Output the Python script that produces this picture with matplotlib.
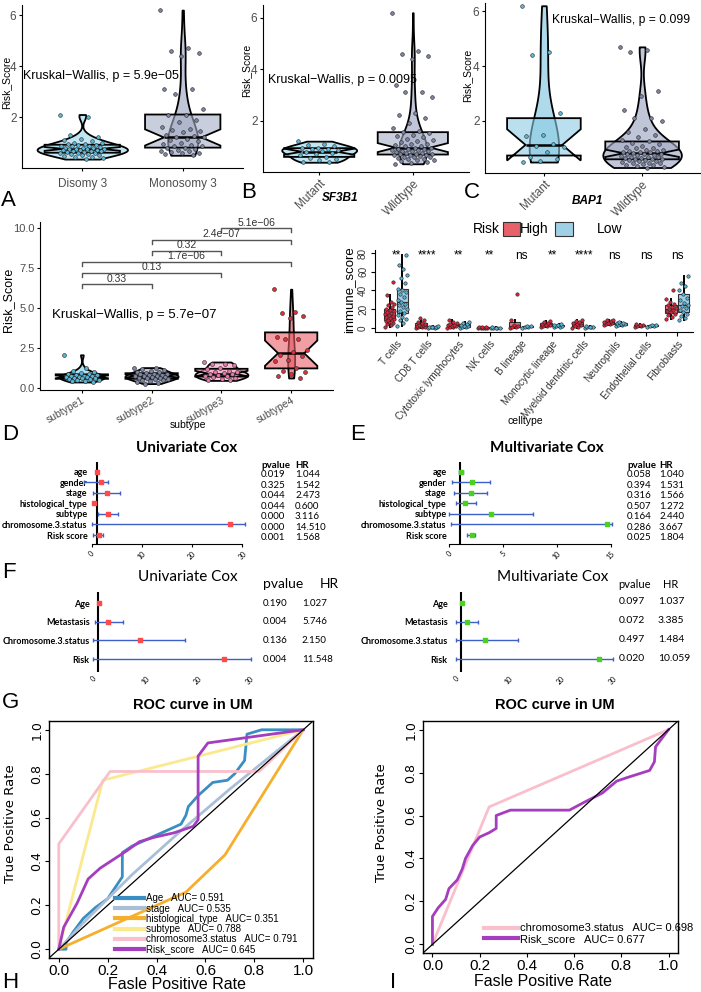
import numpy as np
import matplotlib.pyplot as plt
import matplotlib.colors as mcolors
from matplotlib.patches import Rectangle

# ---------------- data ----------------
# top row: risk score by group
A_groups = ['Disomy 3', 'Monosomy 3']
A_disomy = [2.1, 2.0, 1.3, 1.2, 1.15, 1.1, 1.05, 1.0, 1.0, 0.95, 0.95, 0.9, 0.9, 0.88, 0.85,
            0.85, 0.82, 0.8, 0.8, 0.78, 0.76, 0.75, 0.75, 0.73, 0.72, 0.7, 0.7, 0.68, 0.66,
            0.65, 0.64, 0.62, 0.6, 0.6, 0.58, 0.55, 0.55, 0.52, 0.5, 0.48, 0.45, 0.42, 0.4, 0.35]
A_monosomy = [6.2, 4.7, 4.6, 4.5, 4.4, 3.1, 3.1, 2.9, 2.3, 2.1, 2.1, 1.9, 1.8, 1.6, 1.55, 1.5,
              1.45, 1.4, 1.3, 1.25, 1.2, 1.2, 1.15, 1.1, 1.05, 1.0, 0.95, 0.9, 0.88, 0.85, 0.8,
              0.78, 0.75, 0.7, 0.68, 0.65, 0.62, 0.6, 0.58, 0.55, 0.5]

B_groups = ['Mutant', 'Wildtype']
B_mutant = [1.2, 1.1, 1.05, 1.0, 0.95, 0.92, 0.9, 0.88, 0.85, 0.8, 0.78, 0.75, 0.7, 0.65,
            0.6, 0.55, 0.5, 0.45, 0.4, 0.38]
B_wild = [6.2, 4.7, 4.6, 4.5, 4.4, 3.4, 3.1, 3.1, 2.9, 2.3, 2.2, 2.1, 1.9, 1.7, 1.6, 1.55, 1.5,
          1.45, 1.4, 1.35, 1.3, 1.25, 1.2, 1.15, 1.1, 1.1, 1.05, 1.0, 1.0, 0.95, 0.95, 0.9, 0.9,
          0.88, 0.85, 0.85, 0.82, 0.8, 0.8, 0.78, 0.75, 0.75, 0.72, 0.7, 0.7, 0.68, 0.65, 0.65,
          0.62, 0.6, 0.6, 0.58, 0.55, 0.52, 0.5, 0.48, 0.45, 0.42, 0.4, 0.35, 0.32]

C_groups = ['Mutant', 'Wildtype']
C_mutant = [6.2, 4.5, 4.4, 2.3, 1.5, 1.45, 1.15, 1.1, 1.05, 0.85, 0.7, 0.6, 0.55, 0.5]
C_wild = [4.7, 4.6, 4.5, 3.1, 2.9, 2.4, 2.1, 2.1, 2.0, 1.7, 1.6, 1.5, 1.4, 1.3, 1.25, 1.2,
          1.15, 1.1, 1.05, 1.0, 1.0, 0.95, 0.95, 0.9, 0.9, 0.88, 0.85, 0.85, 0.82, 0.8, 0.8,
          0.78, 0.75, 0.75, 0.72, 0.7, 0.7, 0.68, 0.66, 0.65, 0.62, 0.6, 0.6, 0.58, 0.56, 0.55,
          0.52, 0.5, 0.48, 0.46, 0.45, 0.42, 0.4, 0.38, 0.35, 0.32, 0.3]

# subtype panel
subtypes = ['subtype1', 'subtype2', 'subtype3', 'subtype4']
s1 = [2.1, 1.3, 1.1, 1.0, 0.95, 0.9, 0.88, 0.85, 0.82, 0.8, 0.78, 0.75, 0.72, 0.7, 0.7, 0.68,
      0.65, 0.62, 0.6, 0.58, 0.55, 0.5, 0.48, 0.45, 0.4]
s2 = [1.3, 1.25, 1.2, 1.15, 1.1, 1.05, 1.0, 0.95, 0.92, 0.9, 0.88, 0.85, 0.82, 0.8, 0.78, 0.75,
      0.72, 0.7, 0.68, 0.65, 0.62, 0.6, 0.58, 0.55, 0.5, 0.45, 0.4, 0.35, 0.3]
s3 = [1.65, 1.55, 1.5, 1.45, 1.3, 1.2, 1.1, 1.05, 1.0, 0.95, 0.9, 0.88, 0.85, 0.8, 0.75, 0.7,
      0.65, 0.6, 0.55, 0.5]
s4 = [6.2, 4.8, 4.7, 4.5, 4.4, 3.2, 3.1, 3.1, 2.4, 2.3, 2.1, 2.0, 1.8, 1.7, 1.3, 1.1, 1.0,
      0.9, 0.8, 0.65]
pairs = [(1, 2), (1, 3), (1, 4), (2, 3), (2, 4), (3, 4)]
pair_p = ['0.33', '0.13', '1.7e\u221206', '0.32', '2.4e\u221207', '5.1e\u221206']
pair_y = [6.5, 7.2, 7.9, 8.6, 9.3, 10.0]

# immune panel
cells = ['T cells', 'CD8 T cells', 'Cytotoxic lymphocytes', 'NK cells', 'B lineage',
         'Monocytic lineage', 'Myeloid dendritic cells', 'Neutrophils', 'Endothelial cells',
         'Fibroblasts']
cell_sig = ['**', '****', '**', '**', 'ns', '**', '****', 'ns', 'ns', 'ns']
imm_high = [
    [1, 3, 4, 5, 6, 7, 8, 9, 10, 11, 12, 13, 14, 15, 16, 17, 18, 19, 20, 22, 24, 26, 28, 35, 49],
    [0.5, 1, 1, 1.5, 2, 2, 3, 3, 4, 5, 6, 8, 11],
    [0.5, 1, 1.5, 2, 2.5, 3, 3.5, 4, 5, 6, 8],
    [0.1, 0.2, 0.3, 0.4, 0.5, 0.6, 0.8, 1],
    [0.5, 1, 1.5, 2, 3, 9, 36],
    [1, 2, 2.5, 3, 3.5, 4, 5, 6, 7],
    [0.5, 1, 2, 3, 4, 5, 6, 7, 9],
    [3, 4, 4.5, 5, 5.5, 6, 7, 8, 9],
    [1.5, 2, 2.5, 3, 3.5, 4],
    [10, 12, 14, 15, 17, 18, 19, 20, 21, 22, 24, 26, 28, 31, 40]]
imm_low = [
    [2, 5, 8, 10, 12, 14, 16, 18, 20, 22, 24, 26, 28, 30, 33, 36, 38, 40, 42, 48, 53, 57, 63, 67, 78],
    [0.3, 0.5, 0.6, 0.8, 1, 1, 1.2, 1.5, 2],
    [0.5, 1, 1.5, 2, 2.5, 3, 4, 5, 6],
    [0.1, 0.2, 0.3, 0.4, 0.5, 0.6],
    [0.5, 1, 1.5, 2, 2.5],
    [1, 1.5, 2, 2.5, 3, 3.5, 4],
    [0.5, 0.8, 1, 1.2, 1.5, 2],
    [2.5, 3, 3.5, 4, 4.5, 5, 5.5, 6],
    [1.5, 2, 2.5, 3, 3.5],
    [9, 11, 13, 15, 17, 19, 21, 23, 25, 27, 30, 32, 36, 40, 45, 48, 55]]

# forest plots (plotted positions, and the printed table)
cox7_rows = ['age', 'gender', 'stage', 'histological_type', 'subtype', 'chromosome.3.status',
             'Risk score']
D_hr = [1.0, 1.8, 3.0, 0.5, 3.3, 27.6, 1.5]
D_lo = [0.8, -1.5, 0.3, 0.3, 1.3, 0.0, 0.2]
D_hi = [1.3, 3.3, 5.7, 0.8, 5.2, 30.5, 2.3]
D_p = ['0.019', '0.325', '0.044', '0.044', '0.000', '0.000', '0.001']
D_hrtxt = ['1.044', '1.542', '2.473', '0.600', '3.116', '14.510', '1.568']

E_hr = [1.1, 2.1, 2.0, 1.5, 3.9, 14.6, 2.1]
E_lo = [0.9, 0.3, 0.5, 0.6, 0.0, 0.2, 1.7]
E_hi = [1.3, 3.8, 3.5, 2.5, 7.8, 15.1, 2.4]
E_p = ['0.058', '0.394', '0.316', '0.507', '0.164', '0.286', '0.025']
E_hrtxt = ['1.040', '1.531', '1.566', '1.272', '2.440', '3.667', '1.804']

cox4_rows = ['Age', 'Metastasis', 'Chromosome.3.status', 'Risk']
F_hr = [1.1, 2.9, 8.9, 25.0]
F_lo = [0.9, 0.4, 0.0, 0.0]
F_hi = [1.3, 5.7, 17.6, 30.3]
F_p = ['0.190', '0.004', '0.136', '0.004']
F_hrtxt = ['1.027', '5.746', '2.150', '11.548']

M_hr = [1.1, 2.1, 5.5, 27.4]
M_lo = [0.9, 0.0, 0.0, 0.0]
M_hi = [1.3, 4.2, 11.9, 30.1]
M_p = ['0.097', '0.072', '0.497', '0.020']
M_hrtxt = ['1.037', '3.385', '1.484', '10.059']

# ROC curves
roc_G = {
    'Age': ([0, 0.03, 0.03, 0.06, 0.1, 0.15, 0.2, 0.26, 0.26, 0.3, 0.38, 0.5, 0.52, 0.53, 0.57,
             0.63, 0.69, 0.72, 0.76, 0.77, 0.83, 1.0],
            [0, 0, 0.03, 0.08, 0.14, 0.19, 0.23, 0.33, 0.44, 0.47, 0.51, 0.57, 0.61, 0.65, 0.70,
             0.76, 0.77, 0.80, 0.86, 0.98, 1.0, 1.0]),
    'stage': ([0, 0.1, 0.3, 0.5, 0.7, 0.9, 1], [0, 0.12, 0.34, 0.54, 0.73, 0.91, 1]),
    'histological_type': ([0, 0.52, 0.68, 1], [0, 0.26, 0.43, 1]),
    'subtype': ([0, 0.18, 1], [0, 0.77, 1]),
    'chromosome3.status': ([0, 0, 0.21, 0.82, 1], [0, 0.48, 0.81, 0.81, 1]),
    'Risk_score': ([0, 0.02, 0.075, 0.12, 0.17, 0.225, 0.28, 0.33, 0.39, 0.47, 0.55, 0.57, 0.57,
                    0.61, 1.0],
                   [0, 0.1, 0.21, 0.32, 0.37, 0.41, 0.45, 0.49, 0.51, 0.53, 0.56, 0.59, 0.88,
                    0.94, 1.0]),
}
auc_G = ['0.591', '0.535', '0.351', '0.788', '0.791', '0.645']
roc_I = {
    'chromosome3.status': ([0, 0.24, 1], [0, 0.64, 1]),
    'Risk_score': ([0, 0, 0.024, 0.056, 0.07, 0.105, 0.126, 0.14, 0.17, 0.2, 0.24, 0.27, 0.27,
                    0.33, 0.58, 0.64, 0.72, 0.78, 0.82, 0.92, 0.94, 0.945, 1],
                   [0, 0.13, 0.17, 0.21, 0.26, 0.30, 0.35, 0.40, 0.46, 0.50, 0.52, 0.54, 0.60,
                    0.625, 0.625, 0.66, 0.705, 0.76, 0.775, 0.81, 0.85, 0.92, 1]),
}
auc_I = ['0.698', '0.677']
roc_colors = {'Age': '#3a8ec2', 'stage': '#a9bfd8', 'histological_type': '#f6ae2d',
              'subtype': '#fbe98e', 'chromosome3.status': '#f9c0cc', 'Risk_score': '#a53dbf'}

# ---------------- layout helpers ----------------
plt.rcParams['font.family'] = ['Liberation Sans', 'DejaVu Sans']
W, H = 701, 992
fig = plt.figure(figsize=(W / 100, H / 100), dpi=100)


def add_ax(l, t, r, b):
    return fig.add_axes([l / W, 1 - b / H, (r - l) / W, (b - t) / H])


def ftext(x, y, s, **kw):
    fig.text(x / W, 1 - y / H, s, **kw)


def vlabel(x, y, s, **kw):
    ftext(x, y, s, rotation=90, ha='center', va='center', **kw)


def spread(n, w):
    # fixed jitter pattern so the dots do not sit on one line
    return ((np.arange(n) * 0.6180339887) % 1 - 0.5) * w


def violin_box(ax, groups, fills, dots, vwidths, bwidth=0.75, jw=0.45, ms=7):
    for i, (vals, fc, dc, vw) in enumerate(zip(groups, fills, dots, vwidths)):
        p = i + 1
        vals = np.asarray(vals, float)
        v = ax.violinplot([vals], positions=[p], widths=vw, showextrema=False,
                          bw_method='silverman', points=200)
        for b in v['bodies']:
            b.set_alpha(None)
            b.set_facecolor(mcolors.to_rgba(fc, 0.7))
            b.set_edgecolor('black')
            b.set_linewidth(1.3)
            b.set_zorder(2)
        bp = ax.boxplot([vals], positions=[p], widths=bwidth, notch=True, patch_artist=True,
                        showfliers=False, whis=0, showcaps=False, manage_ticks=False)
        for box in bp['boxes']:
            box.set_facecolor(mcolors.to_rgba(fc, 0.6))
            box.set_edgecolor('black')
            box.set_linewidth(1.3)
            box.set_zorder(3)
        for wl in bp['whiskers']:
            wl.set_visible(False)
        for m in bp['medians']:
            m.set_color('black')
            m.set_linewidth(1.8)
            m.set_zorder(3)
        ax.scatter(p + spread(len(vals), jw), vals, s=ms, c=dc, edgecolors='#222222',
                   linewidths=0.4, zorder=4)


def classic(ax, labels, yticks, rot=0, fs=8.5):
    for s in ['top', 'right']:
        ax.spines[s].set_visible(False)
    ax.set_xticks(range(1, len(labels) + 1))
    if rot:
        ax.set_xticklabels(labels, rotation=rot, ha='right', rotation_mode='anchor')
    else:
        ax.set_xticklabels(labels)
    ax.set_yticks(yticks)
    ax.tick_params(labelsize=fs, labelcolor='#4d4d4d', length=2.5, width=0.8, pad=1.5)


light, grey = '#a9dcec', '#a6aec6'
dot_light, dot_grey = '#5fb8d8', '#7c86a2'

# ---------------- A ----------------
axA = add_ax(22, 5, 243, 168)
violin_box(axA, [A_disomy, A_monosomy], [light, grey], [dot_light, dot_grey], [0.9, 0.3])
axA.set_xlim(0.4, 2.6)
axA.set_ylim(0, 6.4)
classic(axA, A_groups, [2, 4, 6])
axA.tick_params(axis='x', pad=5)
vlabel(6, 82, 'Risk_Score', fontsize=7.5)
ftext(23, 76, 'Kruskal\u2212Wallis, p = 5.9e\u221205', fontsize=9, va='center')
ftext(1, 200, 'A', fontsize=16, va='center')

# ---------------- B ----------------
axB = add_ax(263, 5, 469, 172)
violin_box(axB, [B_mutant, B_wild], [light, grey], [dot_light, dot_grey], [0.8, 0.3])
axB.set_xlim(0.4, 2.6)
axB.set_ylim(0, 6.5)
classic(axB, B_groups, [2, 4, 6], rot=45)
vlabel(246, 70, 'Risk_Score', fontsize=7.5)
ftext(268, 80, 'Kruskal\u2212Wallis, p = 0.0095', fontsize=9, va='center')
ftext(340, 198, 'SF3B1', fontsize=8.5, fontweight='bold', fontstyle='italic', ha='center',
      va='center')
ftext(241, 193, 'B', fontsize=16, va='center')

# ---------------- C ----------------
axC = add_ax(485, 3, 701, 173)
violin_box(axC, [C_mutant, C_wild], ['#8ccbe4', grey], [dot_light, dot_grey], [0.3, 0.8])
axC.set_xlim(0.4, 2.6)
axC.set_ylim(0.1, 6.3)
classic(axC, C_groups, [2, 4, 6], rot=45)
vlabel(467, 75, 'Risk_Score', fontsize=7.5)
ftext(552, 20, 'Kruskal\u2212Wallis, p = 0.099', fontsize=8.7, va='center')
ftext(587, 201, 'BAP1', fontsize=8.5, fontweight='bold', fontstyle='italic', ha='center',
      va='center')
ftext(464, 193, 'C', fontsize=16, va='center')

# ---------------- subtype ----------------
axS = add_ax(40, 222, 333, 390)
violin_box(axS, [s1, s2, s3, s4], ['#8fd4e8', '#a3abc4', '#f5a9c8', '#e8606a'],
           ['#5ab4d6', '#7d86a3', '#e879a8', '#e0303a'], [0.65, 0.76, 0.76, 0.1],
           bwidth=0.75, jw=0.5, ms=8)
axS.set_xlim(0.4, 4.6)
axS.set_ylim(-0.1, 10.4)
classic(axS, subtypes, [0, 2.5, 5, 7.5, 10], rot=30, fs=7.5)
axS.set_yticklabels(['0.0', '2.5', '5.0', '7.5', '10.0'])
axS.tick_params(axis='y', labelsize=8)
vlabel(8, 300, 'Risk_Score', fontsize=9)
ftext(188, 425, 'subtype', fontsize=7.5, ha='center', va='center')
for (a, b), lab, yv in zip(pairs, pair_p, pair_y):
    axS.plot([a, a, b, b], [yv - 0.25, yv, yv, yv - 0.25], color='#555555', lw=1)
    axS.text((a + b) / 2, yv + 0.05, lab, ha='center', va='bottom', fontsize=7.5,
             color='#333333')
ftext(52, 315, 'Kruskal\u2212Wallis, p = 5.7e\u221207', fontsize=9.5, va='center')

# ---------------- immune ----------------
axI = add_ax(375, 250, 693, 332)
for k, (hv, lv) in enumerate(zip(imm_high, imm_low)):
    for vals, off, fc, dc in [(hv, -0.2, '#e8767c', '#d7263d'), (lv, 0.2, '#9fd0e6', '#58b3d6')]:
        vals = np.asarray(vals, float)
        p = k + 1 + off
        bp = axI.boxplot([vals], positions=[p], widths=0.36, patch_artist=True,
                         showfliers=False, showcaps=False, manage_ticks=False)
        for box in bp['boxes']:
            box.set_facecolor(fc)
            box.set_edgecolor('#333333')
            box.set_linewidth(0.8)
        for wl in bp['whiskers']:
            wl.set_color('black')
            wl.set_linewidth(1.4)
        for m in bp['medians']:
            m.set_color('#333333')
            m.set_linewidth(0.8)
        axI.scatter(p + spread(len(vals), 0.32), vals, s=6, c=dc, edgecolors='#222222',
                    linewidths=0.4, zorder=4)
    axI.text(k + 1, 77, cell_sig[k], ha='center', va='center', fontsize=8.5)
axI.set_xlim(0.33, 10.5)
axI.set_ylim(-4.3, 83.2)
for s in ['top', 'right']:
    axI.spines[s].set_visible(False)
axI.set_xticks(range(1, 11))
axI.set_xticklabels(cells, rotation=50, ha='right', rotation_mode='anchor')
axI.set_yticks([0, 20, 40, 60, 80])
axI.set_yticklabels(['0', '20', '40', '60', '80'], rotation=90, va='center')
axI.tick_params(labelsize=7.2, labelcolor='#333333', length=3, width=0.8, pad=2)
vlabel(349, 290, 'immune_score', fontsize=9.5)
ftext(525, 421, 'celltype', fontsize=7.5, ha='center', va='center')
# legend
ftext(473, 229, 'Risk', fontsize=10, va='center')
fig.patches.append(Rectangle((503 / W, 1 - 236 / H), 17 / W, 14 / H, transform=fig.transFigure,
                             facecolor='#e8606a', edgecolor='#333333', lw=0.8))
ftext(520, 229, 'High', fontsize=10, va='center')
fig.patches.append(Rectangle((555 / W, 1 - 236 / H), 18 / W, 14 / H, transform=fig.transFigure,
                             facecolor='#9fd0e6', edgecolor='#333333', lw=0.8))
ftext(597, 229, 'Low', fontsize=10, va='center')

ftext(2, 434, 'D', fontsize=16, va='center')
ftext(350, 434, 'E', fontsize=16, va='center')


# ---------------- forest plots ----------------
def forest(box, xlim, ylim, rows, hr, lo, hi, dot, xticks, line_bottom, lab_fs):
    ax = add_ax(*box)
    y = np.arange(len(rows))
    hr, lo, hi = np.array(hr), np.array(lo), np.array(hi)
    ax.errorbar(hr, y, xerr=[hr - lo, hi - hr], fmt='none', ecolor='#3d5fc8', elinewidth=1,
                capsize=1.5, capthick=1, clip_on=False, zorder=2)
    ax.scatter(hr, y, s=9, marker='s', color=dot, zorder=3, clip_on=False)
    ax.axvline(1, color='black', lw=1.5, zorder=1)
    ax.set_xlim(*xlim)
    ax.set_ylim(*ylim)
    for s in ['top', 'right', 'left']:
        ax.spines[s].set_visible(False)
    if line_bottom:
        ax.spines['bottom'].set_bounds(xticks[0], xticks[-1])
        ax.spines['bottom'].set_linewidth(0.8)
    else:
        ax.spines['bottom'].set_visible(False)
    ax.set_xticks(xticks)
    ax.set_xticklabels([str(t) for t in xticks], rotation=45, fontsize=5, family='Lato')
    ax.tick_params(axis='x', length=0 if not line_bottom else 2, pad=2)
    ax.set_yticks(y)
    ax.set_yticklabels(rows, fontsize=lab_fs, fontweight='bold', family='Lato')
    ax.tick_params(axis='y', length=0, pad=1)
    return ax


row7 = [471.7 + 10.55 * i for i in range(7)]
forest((89, 462, 250, 544), (-0.5, 31.5), (6.85, -0.92), cox7_rows, D_hr, D_lo, D_hi,
       '#ff4a4a', [0, 10, 20, 30], True, 6.5)
forest((448, 462, 617, 544), (-0.1, 15.56), (6.85, -0.92), cox7_rows, E_hr, E_lo, E_hi,
       '#48d21e', [0, 5, 10, 15], True, 6.5)
ftext(187, 448, 'Univariate Cox', fontsize=11, fontweight='bold', family='Lato', ha='center',
      va='center')
ftext(547, 448, 'Multivariate Cox', fontsize=11, fontweight='bold', family='Lato', ha='center',
      va='center')
for x0, x1, ps, hs in [(261, 295, D_p, D_hrtxt), (627, 659, E_p, E_hrtxt)]:
    ftext(x0, 465, 'pvalue', fontsize=7, family='Lato', fontweight='bold', va='center')
    ftext(x1, 465, 'HR', fontsize=7, family='Lato', fontweight='bold', va='center')
    for yy, pv, hv in zip(row7, ps, hs):
        ftext(x0, yy + 3, pv, fontsize=7, family='Lato', va='center')
        ftext(x1, yy + 3, hv, fontsize=7, family='Lato', va='center')

ftext(2, 572, 'F', fontsize=16, va='center')
forest((91, 592, 255, 672), (-0.4, 31.0), (3.69, -0.59), cox4_rows, F_hr, F_lo, F_hi,
       '#ff4a4a', [0, 10, 20, 30], False, 6.5)
forest((449, 592, 618, 672), (-1.34, 31.0), (3.69, -0.59), cox4_rows, M_hr, M_lo, M_hi,
       '#48d21e', [0, 10, 20, 30], False, 6.5)
ftext(188, 577, 'Univariate Cox', fontsize=11, family='Lato', ha='center', va='center')
ftext(553, 577, 'Multivariate Cox', fontsize=11, family='Lato', ha='center', va='center')
row4 = [603 + 18.7 * i for i in range(4)]
ftext(263, 584, 'pvalue', fontsize=10, family='Lato', va='center')
ftext(320, 584, 'HR', fontsize=10, family='Lato', va='center')
ftext(618, 584, 'pvalue', fontsize=8, family='Lato', va='center')
ftext(663, 584, 'HR', fontsize=8, family='Lato', va='center')
for yy, pv, hv, pm, hm in zip(row4, F_p, F_hrtxt, M_p, M_hrtxt):
    ftext(263, yy, pv, fontsize=7, family='Lato', va='center')
    ftext(302, yy, hv, fontsize=7, family='Lato', va='center')
    ftext(619, yy - 1, pm, fontsize=7.5, family='Lato', va='center')
    ftext(658, yy - 1, hm, fontsize=7.5, family='Lato', va='center')


# ---------------- ROC ----------------
def roc_axes(box, curves, aucs, leg_anchor, leg_fs, title_x, xlab_xy, ylab_xy):
    ax = add_ax(*box)
    handles = []
    for (name, (fpr, tpr)), auc in zip(curves.items(), aucs):
        h, = ax.plot(fpr, tpr, color=roc_colors[name], lw=2,
                     label=f'{name}   AUC= {auc}')
        handles.append(h)
    ax.plot([-0.04, 1.04], [-0.04, 1.04], color='black', lw=0.9)
    ax.set_xlim(-0.04, 1.04)
    ax.set_ylim(-0.04, 1.04)
    ticks = [0, 0.2, 0.4, 0.6, 0.8, 1.0]
    ax.set_xticks(ticks)
    ax.set_xticklabels([f'{t:.1f}' for t in ticks], fontsize=11)
    ax.set_yticks(ticks)
    ax.set_yticklabels([f'{t:.1f}' for t in ticks], rotation=90, va='center', fontsize=9,
                       family='Liberation Sans Narrow')
    ax.tick_params(length=3, width=0.8, pad=1)
    for s in ax.spines.values():
        s.set_linewidth(1)
    ftext(*xlab_xy, 'Fasle Positive Rate', fontsize=11.5, ha='center', va='center')
    vlabel(*ylab_xy, 'True Positive Rate', fontsize=9.5, family='Liberation Sans Narrow')
    leg = ax.legend(handles=handles, loc='lower left', bbox_to_anchor=leg_anchor, frameon=False,
                    fontsize=leg_fs, handlelength=3, handletextpad=0.2, labelspacing=0.02,
                    borderpad=0, borderaxespad=0)
    for line in leg.get_lines():
        line.set_linewidth(3)
    ftext(title_x, 705, 'ROC curve in UM', fontsize=10.5, fontweight='bold', ha='center',
          va='center')
    return ax


roc_axes((49, 721, 313, 958), roc_G, auc_G, (0.25, 0.015), 7, 193, (177, 984.5), (11, 824))
roc_axes((423, 721, 678, 953), roc_I, auc_I, (0.24, 0.04), 8, 555, (543, 981), (382, 823))
ftext(2, 983, 'H', fontsize=16, va='center')
ftext(2, 702, 'G', fontsize=16, va='center')
ftext(390, 983, 'I', fontsize=16, va='center')

fig.savefig('out.png', dpi=100)
